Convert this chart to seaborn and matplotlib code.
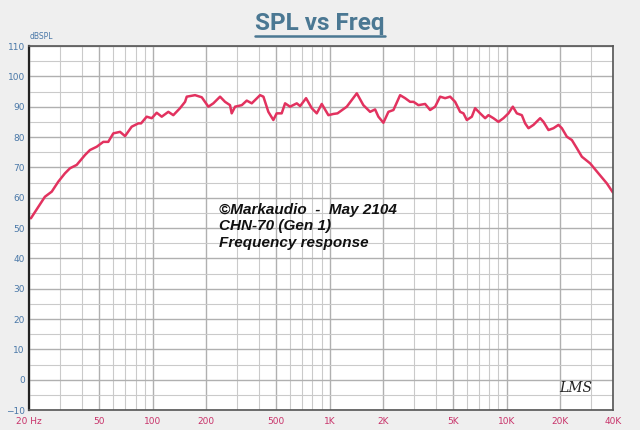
import numpy as np
import pandas as pd
import seaborn as sns
from matplotlib import pyplot as plt
from matplotlib.lines import Line2D
from matplotlib.ticker import FixedLocator, NullFormatter


# frequency response (Hz, dB SPL)
freq = [20.5, 22.6, 24.6, 26.9, 29.3, 31.9, 34.1, 37.2, 41.5, 44.2, 48.3, 52.6, 56.1,
        59.9, 65.4, 69.8, 76.1, 83.0, 86.0, 92.5, 98.8, 105.4, 112.5, 122.6, 130.8,
        142.7, 152.4, 155.8, 173.6, 189.4, 206.4, 220.2, 240.3, 256.4, 273.6, 279.6,
        292.2, 318.8, 340.1, 363.0, 404.5, 422.5, 450.5, 480.8, 502.0, 535.9, 560.1,
        597.5, 652.1, 681.1, 736.0, 792.5, 845.7, 902.7, 984, 1050, 1108, 1250, 1334,
        1424, 1551, 1693, 1807, 1886, 2013, 2149, 2294, 2502, 2671, 2850, 2980, 3175,
        3464, 3697, 3946, 4211, 4495, 4797, 5119, 5463, 5705, 5961, 6362, 6640, 7088,
        7565, 7896, 8427, 8993, 9600, 10245, 10846, 11426, 12196, 12730, 13297, 14191,
        15478, 16163, 17248, 18405, 19644, 20530, 21907, 23382, 24955, 26637, 29673,
        33054, 36869, 39900]
spl = [53.2, 57.0, 60.3, 62.0, 65.3, 68.0, 69.7, 70.8, 74.1, 75.7, 76.8, 78.4, 78.4,
       81.2, 81.7, 80.3, 83.4, 84.5, 84.5, 86.7, 86.2, 88.0, 86.7, 88.3, 87.2,
       89.5, 91.6, 93.3, 93.8, 93.1, 90.0, 91.1, 93.3, 91.6, 90.5, 87.8,
       90.0, 90.5, 92.0, 91.1, 93.8, 93.3, 88.3, 85.6, 87.8, 87.8, 91.1,
       90.0, 91.1, 90.2, 92.8, 89.5, 87.8, 90.9, 87.2, 87.6, 87.8, 90.0, 92.2,
       94.4, 90.5, 88.3, 89.1, 86.7, 84.7, 88.3, 88.9, 93.8, 92.8, 91.6, 91.6, 90.5,
       90.9, 88.9, 90.0, 93.3, 92.8, 93.3, 91.6, 88.3, 87.8, 85.6, 86.7, 89.5, 87.8,
       86.2, 87.2, 86.2, 85.0, 86.2, 87.8, 90.0, 87.8, 87.2, 84.5, 82.9, 84.0,
       86.2, 85.0, 82.3, 82.9, 84.0, 82.9, 80.1, 79.0, 76.3, 73.5, 71.3,
       68.0, 64.7, 61.7]

x_ticks = [20, 50, 100, 200, 500, 1000, 2000, 5000, 10000, 20000, 40000]
x_labels = ["20 Hz", "50", "100", "200", "500", "1K", "2K", "5K", "10K", "20K", "40K"]
y_ticks = list(range(-10, 111, 10))

df = pd.DataFrame({"freq": freq, "spl": spl})

sns.set_style("white")
plt.rcParams['font.family'] = ['DejaVu Sans']

fig = plt.figure(figsize=(6.4, 4.3), dpi=100, facecolor="#efefef")
ax = fig.add_axes([0.0453, 0.0465, 0.9127, 0.8465])
ax.set_facecolor("white")

ax.set_xscale("log")
ax.set_xlim(20, 40000)
ax.set_ylim(-10, 110)

minor_x = [m * d for d in [10, 100, 1000, 10000] for m in range(2, 10)]
minor_x = [v for v in minor_x if 20 < v < 40000]
ax.xaxis.set_major_locator(FixedLocator(x_ticks))
ax.xaxis.set_minor_locator(FixedLocator(minor_x))
ax.xaxis.set_minor_formatter(NullFormatter())
ax.set_xticklabels(x_labels)
ax.set_yticks(y_ticks)
ax.yaxis.set_minor_locator(FixedLocator(list(range(-5, 110, 10))))

ax.grid(which="major", color="#b0b0b0", linewidth=1.0)
ax.grid(which="minor", color="#cacaca", linewidth=0.8)
ax.set_axisbelow(True)

sns.lineplot(data=df, x="freq", y="spl", ax=ax, color="#e2325f", linewidth=1.8, sort=False)
ax.set_xlabel("")
ax.set_ylabel("")

ax.tick_params(axis="x", which="both", length=0, labelsize=6.5, labelcolor="#c8336a", pad=5)
ax.tick_params(axis="y", which="both", length=0, labelsize=6.5, labelcolor="#4a78a8", pad=3)

for side in ["left", "bottom", "right", "top"]:
    ax.spines[side].set_color("#555555")
    ax.spines[side].set_linewidth(1.2)
ax.spines["left"].set_color("#222222")
ax.spines["left"].set_linewidth(1.6)

fig.text(0.047, 0.905, "dBSPL", fontsize=5.5, color="#4a78a8", ha="left", va="bottom")

# title with underline
title = fig.text(0.5, 0.945, "SPL vs Freq", fontsize=17.5, fontweight="bold",
                 family=["Roboto", "DejaVu Sans"], color="#4b7893", ha="center", va="center")
fig.canvas.draw()
bb = title.get_window_extent().transformed(fig.transFigure.inverted())
fig.add_artist(Line2D([bb.x0, bb.x1], [bb.y0 - 0.001, bb.y0 - 0.001],
                      transform=fig.transFigure, color="#4b7893", linewidth=1.8))

note = "©Markaudio  -  May 2104\nCHN-70 (Gen 1)\nFrequency response"
ax.text(0.325, 0.57, note, transform=ax.transAxes, fontsize=11, fontweight="bold",
        fontstyle="italic", family=["Liberation Sans", "DejaVu Sans"], color="#111111",
        ha="left", va="top", linespacing=1.25)

ax.text(0.965, 0.04, "LMS", transform=ax.transAxes, fontsize=10, fontstyle="italic",
        family=["DejaVu Serif"], color="#222222", ha="right", va="bottom")

fig.savefig("out.png", dpi=100, facecolor=fig.get_facecolor())
